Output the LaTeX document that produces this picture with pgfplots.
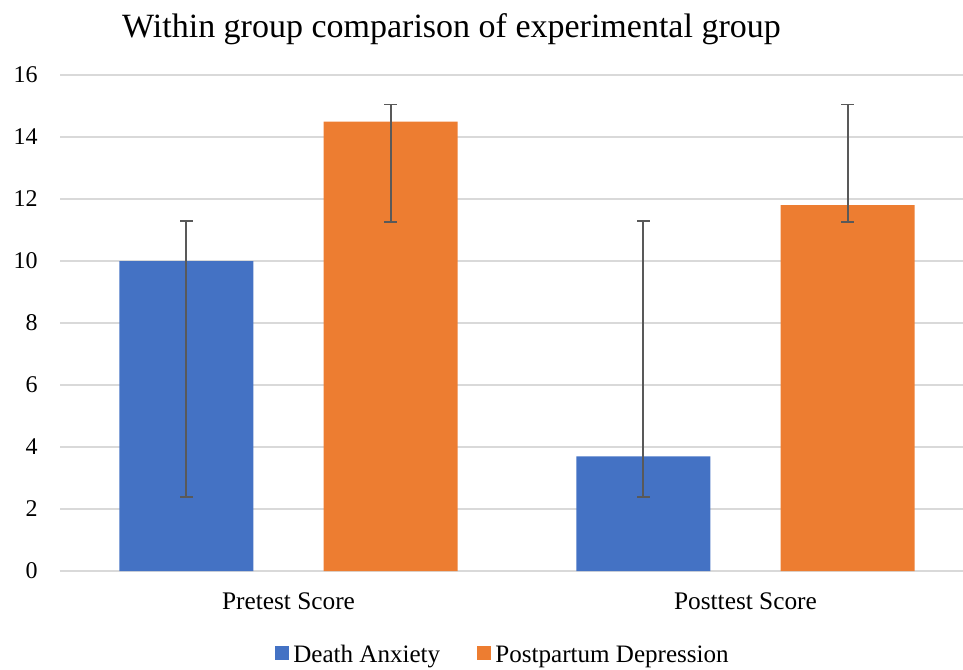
\documentclass[border=0pt]{standalone}
\usepackage{pgfplots}
\pgfplotsset{compat=1.18}
\usepackage{fontspec}
\setmainfont{Liberation Serif}
\definecolor{cblue}{HTML}{4472C4}
\definecolor{corange}{HTML}{ED7D31}
\definecolor{cgrid}{HTML}{D9D9D9}
\definecolor{cerr}{HTML}{595959}
\begin{document}
\begin{tikzpicture}[x=0.75pt,y=0.75pt]
\begin{axis}[
  at={(45pt,73.5pt)}, anchor=south west,
  scale only axis, width=677.25pt, height=372pt,
  xmin=-0.5, xmax=1.476, ymin=0, ymax=16,
  ytick={0,2,...,16},
  xtick={0,1}, xticklabels={Pretest Score, Posttest Score},
  axis line style={draw=none},
  major tick length=0pt,
  tick style={draw=none},
  ymajorgrids, grid style={cgrid, line width=1.1pt},
  /pgf/number format/assume math mode=true,
  yticklabel style={font=\fontsize{18}{21}\selectfont, anchor=east, inner sep=0pt, xshift=-16.5pt},
  xticklabel style={font=\fontsize{19}{22}\selectfont, anchor=base, inner sep=0pt, yshift=-28.5pt},
  bar width=0.293,
  legend columns=2,
  legend style={draw=none, at={(0.4917,-0.169)}, anchor=center,
    font=\fontsize{18.8}{22}\selectfont,
    /tikz/every even column/.append style={column sep=25pt},
    nodes={inner sep=0pt, inner xsep=3pt}},
  legend image code/.code={\fill[#1] (0pt,-3.5pt) rectangle (10.5pt,7pt);},
  error bars/y dir=both, error bars/y explicit,
  error bars/error bar style={draw=cerr, line width=1.4pt},
  error bars/error mark options={rotate=90, mark size=4.75pt, draw=cerr, line width=1.4pt},
]
\addplot[ybar, bar shift=0pt, fill=cblue, draw=none]
  coordinates {(-0.2235,10) += (0,1.3) -= (0,7.6) (0.7765,3.7) += (0,7.6) -= (0,1.3)};
\addlegendentry{Death Anxiety}
\addplot[ybar, bar shift=0pt, fill=corange, draw=none]
  coordinates {(0.2235,14.5) += (0,0.55) -= (0,3.25) (1.2235,11.8) += (0,3.25) -= (0,0.55)};
\addlegendentry{Postpartum Depression}
\end{axis}
\node[anchor=base, inner sep=0pt, font=\fontsize{25.5}{30}\selectfont] at (451.5,631) {Within group comparison of experimental group};
\pgfresetboundingbox
\path[use as bounding box] (0,0) rectangle (963,669);
\end{tikzpicture}
\end{document}
